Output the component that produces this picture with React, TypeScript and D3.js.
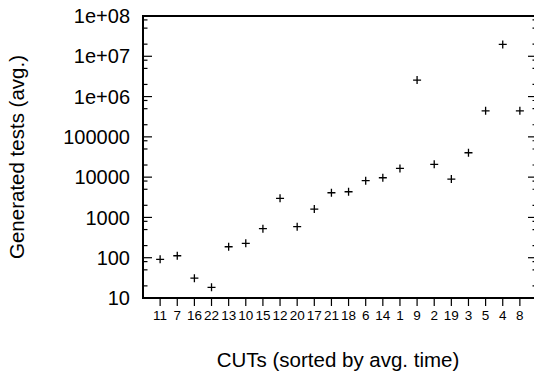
import React from "react";
import * as d3 from "d3";

// CUTs in the order they appear on the x axis (sorted by avg. time)
const cuts = ["11", "7", "16", "22", "13", "10", "15", "12", "20", "17", "21", "18", "6", "14", "1", "9", "2", "19", "3", "5", "4", "8"];
// average number of generated tests for each CUT
const generatedTests = [91, 112, 31, 18.4, 187, 228, 525, 2980, 588, 1615, 4100, 4340, 8150, 9670, 16500, 2570000, 20800, 8970, 40300, 444000, 19700000, 444000];

const yMajorTicks = [10, 100, 1000, 10000, 100000, 1e6, 1e7, 1e8];
const yTickLabels = ["10", "100", "1000", "10000", "100000", "1e+06", "1e+07", "1e+08"];
const yMinorSteps = [2, 5, 8];

const W = 534;
const H = 373;
const margin = { top: 16, right: -3, bottom: 75, left: 143 };
const font = "'Liberation Sans', Arial, Helvetica, sans-serif";

export default function App() {
    const x0 = margin.left;
    const x1 = W - margin.right;
    const y0 = H - margin.bottom;
    const y1 = margin.top;

    const x = d3.scaleLinear().domain([0, cuts.length + 1]).range([x0, x1]);
    const y = d3.scaleLog().domain([10, 1e8]).range([y0, y1]);

    // minor ticks of the log axis
    const minors: number[] = [];
    yMajorTicks.slice(0, -1).forEach((m) => yMinorSteps.forEach((s) => minors.push(m * s)));

    const plus = 4;

    return (
        <svg width={W} height={H} style={{ position: "absolute", left: 0, top: 0, background: "#fff" }} fontFamily={font}>
            {/* y ticks, left (inward) and right (mirror) */}
            {yMajorTicks.map((t) => (
                <g key={"M" + t} stroke="#000" strokeWidth={1.2}>
                    <line x1={x0} x2={x0 + 9} y1={y(t)} y2={y(t)} />
                    <line x1={x1} x2={x1 - 9} y1={y(t)} y2={y(t)} />
                </g>
            ))}
            {minors.map((t) => (
                <g key={"m" + t} stroke="#000" strokeWidth={1.2}>
                    <line x1={x0} x2={x0 + 4.5} y1={y(t)} y2={y(t)} />
                    <line x1={x1} x2={x1 - 4.5} y1={y(t)} y2={y(t)} />
                </g>
            ))}
            {yMajorTicks.map((t, i) => (
                <text key={"l" + t} x={x0 - 13} y={y(t)} dy="0.36em" textAnchor="end" fontSize={20}>
                    {yTickLabels[i]}
                </text>
            ))}

            {/* x ticks, outward */}
            {cuts.map((c, i) => (
                <g key={"x" + c}>
                    <line x1={x(i + 1)} x2={x(i + 1)} y1={y0} y2={y0 + 8} stroke="#000" strokeWidth={1.2} />
                    <text x={x(i + 1)} y={y0 + 22} textAnchor="middle" fontSize={13.5}>
                        {c}
                    </text>
                </g>
            ))}

            {/* border */}
            <rect x={x0} y={y1} width={x1 - x0} height={y0 - y1} fill="none" stroke="#000" strokeWidth={2} />

            {/* points */}
            {generatedTests.map((v, i) => {
                const cx = x(i + 1);
                const cy = y(v);
                return (
                    <path
                        key={"p" + i}
                        d={`M${cx - plus},${cy}H${cx + plus}M${cx},${cy - plus}V${cy + plus}`}
                        stroke="#000"
                        strokeWidth={1.3}
                        fill="none"
                    />
                );
            })}

            {/* axis titles */}
            <text x={(x0 + 533) / 2} y={367} textAnchor="middle" fontSize={20.5}>
                CUTs (sorted by avg. time)
            </text>
            <text
                transform={`translate(24,${(y0 + y1) / 2}) rotate(-90)`}
                textAnchor="middle"
                fontSize={20.5}
            >
                Generated tests (avg.)
            </text>
        </svg>
    );
}
